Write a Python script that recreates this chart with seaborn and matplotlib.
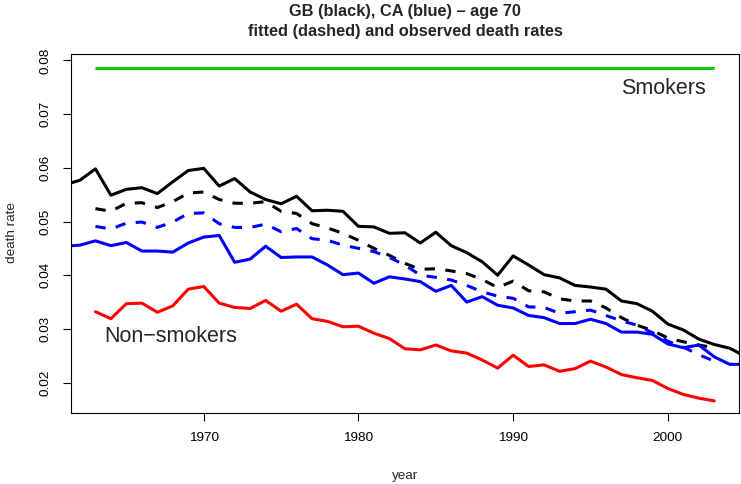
import numpy as np
import pandas as pd
import matplotlib
matplotlib.use("Agg")
import matplotlib.pyplot as plt
import seaborn as sns

# observed series cover 1961-2005, fitted / smoker / non-smoker series 1963-2003
years_obs = list(range(1961, 2006))
years_fit = list(range(1963, 2004))

gb_observed = [0.0568, 0.0577, 0.0598, 0.0549, 0.0560, 0.0563, 0.0552, 0.0574, 0.0595, 0.0599,
               0.0566, 0.0580, 0.0555, 0.0541, 0.0533, 0.0547, 0.0520, 0.0521, 0.0519, 0.0491,
               0.0490, 0.0478, 0.0479, 0.0460, 0.0480, 0.0455, 0.0442, 0.0425, 0.0400, 0.0436,
               0.0419, 0.0401, 0.0395, 0.0381, 0.0378, 0.0374, 0.0352, 0.0347, 0.0333, 0.0309,
               0.0298, 0.0281, 0.0271, 0.0264, 0.0249]

ca_observed = [0.0454, 0.0456, 0.0464, 0.0455, 0.0461, 0.0445, 0.0445, 0.0443, 0.0460, 0.0471,
               0.0474, 0.0424, 0.0430, 0.0454, 0.0433, 0.0434, 0.0434, 0.0419, 0.0401, 0.0404,
               0.0385, 0.0397, 0.0393, 0.0388, 0.0370, 0.0381, 0.0350, 0.0360, 0.0344, 0.0339,
               0.0325, 0.0321, 0.0310, 0.0310, 0.0318, 0.0310, 0.0294, 0.0294, 0.0290, 0.0272,
               0.0265, 0.0270, 0.0248, 0.0234, 0.0234]

gb_fitted = [0.0524, 0.0519, 0.0534, 0.0535, 0.0526, 0.0537, 0.0553, 0.0555, 0.0541, 0.0534,
             0.0534, 0.0537, 0.0519, 0.0515, 0.0496, 0.0488, 0.0478, 0.0465, 0.0450, 0.0437,
             0.0422, 0.0411, 0.0412, 0.0408, 0.0403, 0.0392, 0.0377, 0.0389, 0.0371, 0.0369,
             0.0356, 0.0352, 0.0352, 0.0339, 0.0321, 0.0307, 0.0297, 0.0283, 0.0276, 0.0270,
             0.0265]

ca_fitted = [0.0491, 0.0486, 0.0497, 0.0499, 0.0489, 0.0499, 0.0515, 0.0516, 0.0496, 0.0489,
             0.0489, 0.0495, 0.0481, 0.0487, 0.0468, 0.0465, 0.0456, 0.0450, 0.0444, 0.0433,
             0.0419, 0.0400, 0.0396, 0.0391, 0.0381, 0.0369, 0.0361, 0.0357, 0.0341, 0.0340,
             0.0329, 0.0332, 0.0335, 0.0325, 0.0315, 0.0307, 0.0293, 0.0277, 0.0266, 0.0252,
             0.0240]

non_smokers = [0.0332, 0.0319, 0.0347, 0.0348, 0.0331, 0.0343, 0.0374, 0.0379, 0.0348, 0.0340,
               0.0338, 0.0353, 0.0333, 0.0346, 0.0319, 0.0314, 0.0304, 0.0305, 0.0292, 0.0282,
               0.0263, 0.0261, 0.0270, 0.0259, 0.0255, 0.0242, 0.0227, 0.0251, 0.0230, 0.0233,
               0.0221, 0.0226, 0.0240, 0.0229, 0.0215, 0.0209, 0.0204, 0.0189, 0.0178, 0.0171,
               0.0166]

smokers = [0.0786] * len(years_fit)

y_ticks = [0.02, 0.03, 0.04, 0.05, 0.06, 0.07, 0.08]
x_ticks = [1970, 1980, 1990, 2000]

sns.set_style("white")
plt.rcParams["font.family"] = ["Liberation Sans", "DejaVu Sans"]

W, H, DPI = 741, 484, 100
fig = plt.figure(figsize=(W / DPI, H / DPI), dpi=DPI)
ax = fig.add_axes([70.7 / W, 1 - 413.3 / H, (739 - 70.7) / W, (413.3 - 54) / H])

lw = 2.2
dash = (3.4, 3.4)

obs = pd.DataFrame({"year": years_obs, "gb": gb_observed, "ca": ca_observed})
fit = pd.DataFrame({"year": years_fit, "gb": gb_fitted, "ca": ca_fitted,
                    "smk": smokers, "nonsmk": non_smokers})

sns.lineplot(data=fit, x="year", y="smk", color="#00CD00", lw=lw, ax=ax,
             solid_capstyle="butt")
sns.lineplot(data=obs, x="year", y="gb", color="black", lw=lw, ax=ax,
             solid_joinstyle="round")
sns.lineplot(data=fit, x="year", y="gb", color="black", lw=lw, ax=ax,
             dashes=dash, dash_capstyle="butt")
sns.lineplot(data=fit, x="year", y="ca", color="#0000FF", lw=lw, ax=ax,
             dashes=dash, dash_capstyle="butt")
sns.lineplot(data=obs, x="year", y="ca", color="#0000FF", lw=lw, ax=ax,
             solid_joinstyle="round")
sns.lineplot(data=fit, x="year", y="nonsmk", color="#FF0000", lw=lw, ax=ax,
             solid_joinstyle="round")

ax.set_xlim(1961.4, 2004.6)
ax.set_ylim(0.01428, 0.0812)
ax.set_xticks(x_ticks)
ax.set_xticklabels([str(t) for t in x_ticks])
ax.set_yticks(y_ticks)
ax.set_yticklabels([f"{t:.2f}" for t in y_ticks], rotation=90, va="center")

ax.tick_params(axis="both", which="major", direction="out", length=6,
               width=0.8, color="black", labelsize=9.7, labelcolor="black",
               bottom=True, left=True)
ax.tick_params(axis="x", pad=7.5)
ax.tick_params(axis="y", pad=8.0)

for s in ax.spines.values():
    s.set_visible(True)
    s.set_color("black")
    s.set_linewidth(0.8)

ax.set_xlabel("")
ax.set_ylabel("")
fig.text(405 / W, 1 - 475.7 / H, "year", ha="center", va="center", fontsize=9.7)
fig.text(11.7 / W, 1 - 233 / H, "death rate", ha="center", va="center",
         rotation=90, fontsize=9.7)

fig.text(405 / W, 1 - 11.7 / H, "GB (black), CA (blue) – age 70",
         ha="center", va="center", fontsize=11.8, fontweight="bold")
fig.text(405 / W, 1 - 31.7 / H, "fitted (dashed) and observed death rates",
         ha="center", va="center", fontsize=11.8, fontweight="bold")

ax.text(1999.7, 0.0747, "Smokers", ha="center", va="center", fontsize=15.5)
ax.text(1967.85, 0.0285, "Non\u2212smokers", ha="center", va="center", fontsize=15.5)

fig.savefig("out.png", dpi=DPI)
